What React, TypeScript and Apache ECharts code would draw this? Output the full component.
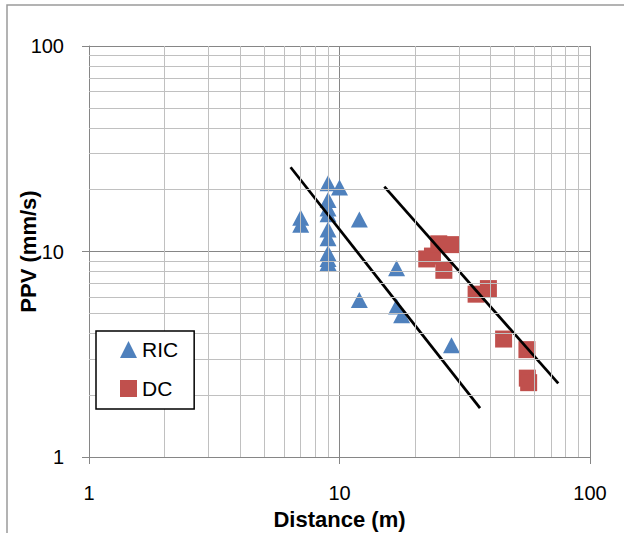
import React, { useEffect, useRef } from 'react'
import * as echarts from 'echarts'

// [distance (m), PPV (mm/s)]
const ricPoints = [
    [7.0, 14.6], [7.0, 13.5],
    [9.0, 21.5], [10.0, 20.5], [9.0, 17.8], [9.0, 16.2], [9.0, 15.2],
    [9.0, 12.8], [9.0, 11.6], [9.0, 9.8], [9.0, 9.2], [9.0, 8.8],
    [12.0, 14.3], [12.0, 5.8],
    [16.9, 8.3], [16.9, 5.4], [17.7, 4.9],
    [28.0, 3.5],
]
const dcPoints = [
    [22.3, 9.2], [23.5, 9.5], [24.9, 10.9], [28.0, 10.8], [26.1, 8.1],
    [35.1, 6.2], [39.3, 6.6],
    [45.2, 3.75], [56.0, 3.33], [56.2, 2.42], [56.9, 2.3],
]
// hand drawn bounding lines
const fitLineA = [[6.38, 25.7], [36.4, 1.73]]
const fitLineB = [[15.1, 20.7], [74.7, 2.28]]
// minor grid positions (2..9 of each decade)
const minorGrid = [2, 3, 4, 5, 6, 7, 8, 9, 20, 30, 40, 50, 60, 70, 80, 90]

const FONT = '"Liberation Sans", Arial, sans-serif'
const MAJOR = '#868686'
const MINOR = '#c0c0c0'

const App = () => {
    const chart: any = useRef()
    useEffect(() => {
        const myChart = echarts.init(chart.current, null, { renderer: 'svg' })
        const axisCommon = {
            type: 'log',
            logBase: 10,
            min: 1,
            max: 100,
            splitNumber: 2,
            nameLocation: 'middle',
            nameMoveOverlap: false,
            nameTextStyle: { fontFamily: FONT, fontSize: 22, fontWeight: 'bold', color: '#000', lineHeight: 22 },
            axisLine: { show: true, lineStyle: { color: MAJOR, width: 1 } },
            axisTick: { show: true, inside: false, length: 7, lineStyle: { color: MAJOR, width: 1 } },
            splitLine: { show: true, lineStyle: { color: MAJOR, width: 1 } },
        }
        myChart.setOption({
            animation: false,
            backgroundColor: '#fff',
            textStyle: { fontFamily: FONT },
            grid: { left: 89, right: 34, top: 46, bottom: 76, containLabel: false, outerBoundsMode: 'none' },
            graphic: [
                {
                    type: 'rect',
                    shape: { x: 7, y: 5, width: 640, height: 560 },
                    style: { fill: 'none', stroke: '#9a9a9a', lineWidth: 1.5 },
                    silent: true,
                    z: -1,
                },
            ],
            legend: {
                data: ['RIC', 'DC'],
                orient: 'vertical',
                left: 96,
                top: 331,
                padding: [8, 16, 10, 24],
                itemGap: 18,
                itemWidth: 17,
                itemHeight: 17,
                backgroundColor: '#fff',
                borderColor: '#000',
                borderWidth: 1.5,
                borderRadius: 0,
                z: 10,
                textStyle: { fontFamily: FONT, fontSize: 21, color: '#000', lineHeight: 20 },
            },
            xAxis: {
                ...axisCommon,
                name: 'Distance (m)',
                nameGap: 51,
                axisLabel: { margin: 28, fontFamily: FONT, fontSize: 20, color: '#000', lineHeight: 16 },
            },
            yAxis: {
                ...axisCommon,
                name: 'PPV (mm/s)',
                nameRotate: 90,
                nameGap: 50,
                axisLabel: { margin: 25, fontFamily: FONT, fontSize: 20, color: '#000' },
            },
            series: [
                {
                    name: 'grid',
                    type: 'scatter',
                    data: [],
                    z: 1,
                    silent: true,
                    markLine: {
                        silent: true,
                        symbol: ['none', 'none'],
                        label: { show: false },
                        lineStyle: { type: 'solid', color: MINOR, width: 1 },
                        data: [
                            ...minorGrid.map((v) => ({ xAxis: v })),
                            ...minorGrid.map((v) => ({ yAxis: v })),
                        ],
                    },
                },
                {
                    name: 'RIC',
                    type: 'scatter',
                    data: ricPoints,
                    symbol: 'triangle',
                    symbolSize: [17, 16],
                    itemStyle: { color: '#4F81BD', opacity: 1 },
                    z: 3,
                },
                {
                    name: 'DC',
                    type: 'scatter',
                    data: dcPoints,
                    symbol: 'rect',
                    symbolSize: 17,
                    itemStyle: { color: '#C0504D', opacity: 1 },
                    z: 3,
                },
                {
                    name: 'lineA',
                    type: 'line',
                    data: fitLineA,
                    showSymbol: false,
                    symbol: 'none',
                    lineStyle: { color: '#000', width: 2.75 },
                    z: 4,
                },
                {
                    name: 'lineB',
                    type: 'line',
                    data: fitLineB,
                    showSymbol: false,
                    symbol: 'none',
                    lineStyle: { color: '#000', width: 2.75 },
                    z: 4,
                },
            ],
        })
        return () => {
            myChart.dispose()
        }
    }, [])

    return (
        <div
            ref={chart}
            style={{ position: 'fixed', left: 0, top: 0, width: 624, height: 533, background: '#fff' }}
        />
    )
}

export default App
